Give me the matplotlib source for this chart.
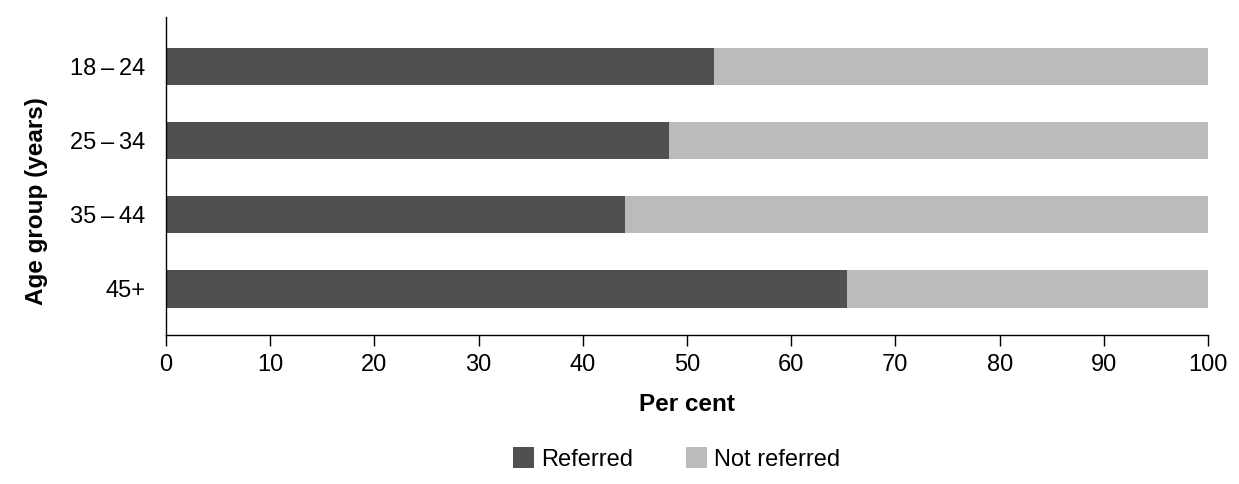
import matplotlib.pyplot as plt
import numpy as np

# data
age_groups = ['18\u2009–\u200924', '25\u2009–\u200934', '35\u2009–\u200944', '45+']
referred = [52.6, 48.3, 44.0, 65.4]
not_referred = [100 - v for v in referred]

plt.rcParams['font.family'] = ['Liberation Sans', 'DejaVu Sans']
plt.rcParams['font.size'] = 17

fig = plt.figure(figsize=(12.39, 4.84), dpi=100)
ax = fig.add_axes([0.134, 0.308, 0.841, 0.657])

y = np.arange(len(age_groups))
ax.barh(y, referred, height=0.5, color='#505050', label='Referred')
ax.barh(y, not_referred, left=referred, height=0.5, color='#bbbbbb', label='Not referred')

ax.set_xlim(0, 100)
ax.set_ylim(3.62, -0.67)
ax.set_xticks(range(0, 101, 10))
ax.set_yticks(y)
ax.set_yticklabels(age_groups)
ax.tick_params(axis='y', length=0, pad=15)
ax.tick_params(axis='x', length=8, width=1, pad=6)

for side in ['top', 'right']:
    ax.spines[side].set_visible(False)
ax.spines['left'].set_linewidth(1)
ax.spines['bottom'].set_linewidth(1)

ax.set_xlabel('Per cent', fontweight='bold', fontsize=17.5, labelpad=12)
ax.set_ylabel('Age group (years)', fontweight='bold', fontsize=17.5)
ax.yaxis.set_label_coords(-0.113, 0.42)

ax.legend(loc='center', bbox_to_anchor=(0.49, -0.39), ncol=2, frameon=False,
          handlelength=0.9, handleheight=1.0, handletextpad=0.3, columnspacing=2.2)

fig.savefig('out.png', dpi=100)
